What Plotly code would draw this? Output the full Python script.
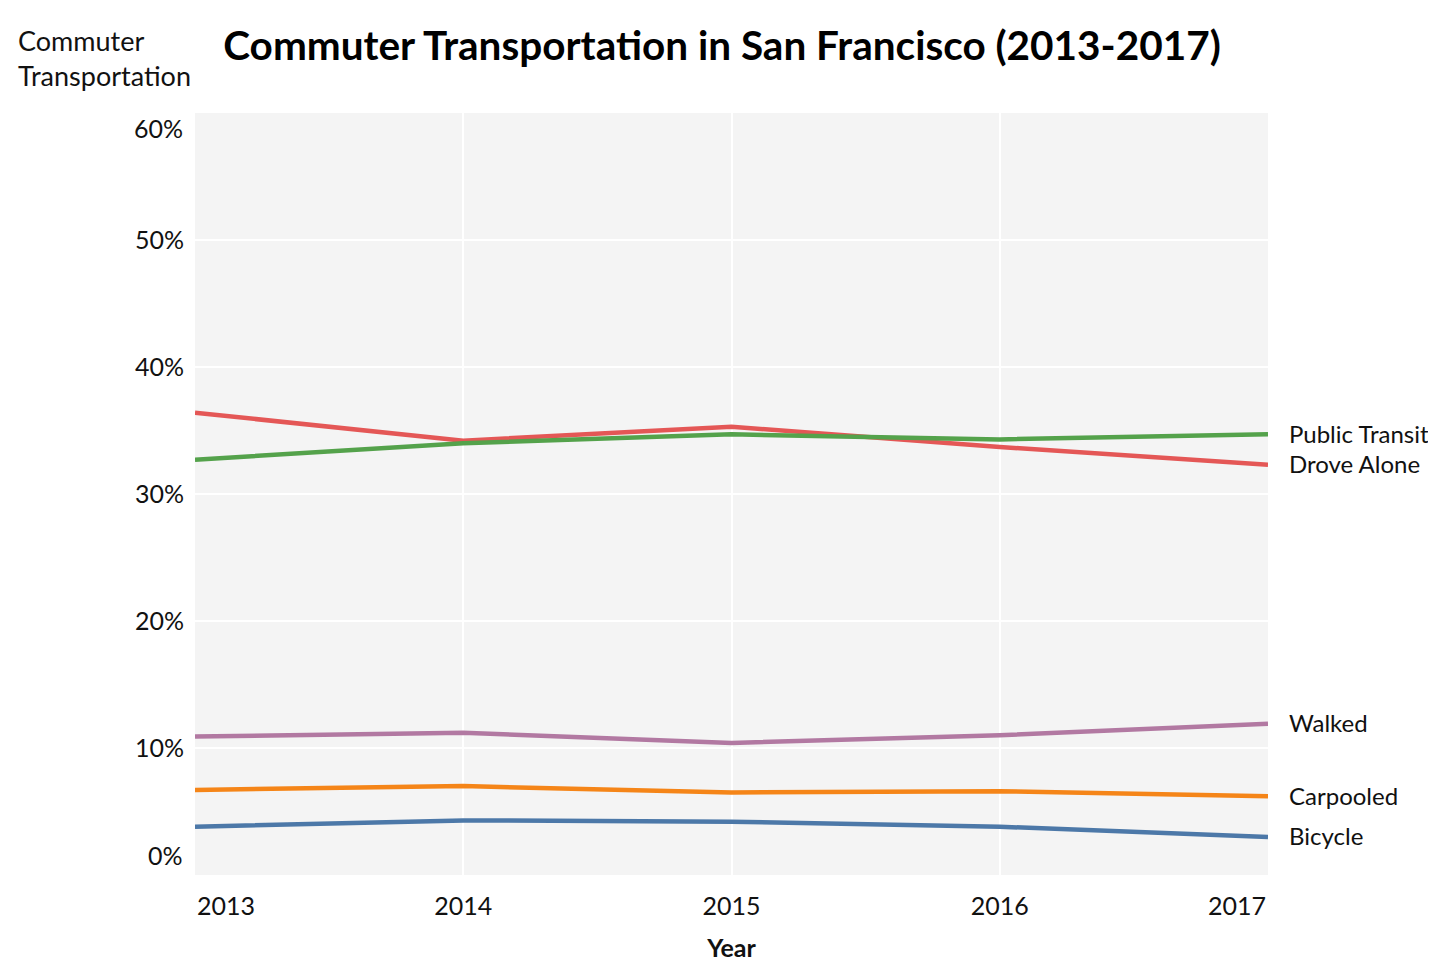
import plotly.graph_objects as go

years = [2013, 2014, 2015, 2016, 2017]
drove_alone = [36.4, 34.2, 35.3, 33.7, 32.3]
public_transit = [32.7, 34.0, 34.7, 34.3, 34.7]
walked = [10.9, 11.2, 10.4, 11.0, 11.9]
carpooled = [6.7, 7.0, 6.5, 6.6, 6.2]
bicycle = [3.8, 4.3, 4.2, 3.8, 3.0]

series_names = ["Bicycle", "Carpooled", "Drove Alone", "Public Transit", "Walked"]
series_values = [bicycle, carpooled, drove_alone, public_transit, walked]
series_colors = ["#4c78a8", "#f58518", "#e45756", "#54a24b", "#b279a2"]

y_ticks = [0, 10, 20, 30, 40, 50, 60]
FONT = "Lato"
TXT = "#111"

W, H = 1420, 954
ML, MT = 187, 105
PW, PH = 1073, 762
MR, MB = W - ML - PW, H - MT - PH

fig = go.Figure()
for name, vals, col in zip(series_names, series_values, series_colors):
    fig.add_trace(go.Scatter(x=years, y=vals, mode="lines", name=name,
                             line=dict(color=col, width=4.5), showlegend=False))

annotations = []
for name, vals in zip(series_names, series_values):
    annotations.append(dict(x=years[-1], y=vals[-1], xref="x", yref="y", text=name,
                            showarrow=False, xanchor="left", yanchor="middle", xshift=19, yshift=1,
                            font=dict(family=FONT, size=24, color=TXT)))
# flushed edge tick labels
annotations.append(dict(x=0, y=y_ticks[0], xref="paper", yref="y", text=f"{y_ticks[0]}%",
                        showarrow=False, xanchor="right", yanchor="bottom", xshift=-10, yshift=3,
                        font=dict(family=FONT, size=25, color=TXT)))
annotations.append(dict(x=0, y=y_ticks[-1], xref="paper", yref="y", text=f"{y_ticks[-1]}%",
                        showarrow=False, xanchor="right", yanchor="top", xshift=-10, yshift=2,
                        font=dict(family=FONT, size=25, color=TXT)))
annotations.append(dict(x=years[0], y=0, xref="x", yref="paper", text=str(years[0]),
                        showarrow=False, xanchor="left", yanchor="top", yshift=-13,
                        font=dict(family=FONT, size=25, color=TXT)))
annotations.append(dict(x=years[-1], y=0, xref="x", yref="paper", text=str(years[-1]),
                        showarrow=False, xanchor="right", yanchor="top", yshift=-13,
                        font=dict(family=FONT, size=25, color=TXT)))
# y axis title (top-left)
annotations.append(dict(x=(8 - ML) / PW, y=1 + (MT - 50) / PH, xref="paper", yref="paper",
                        text="Commuter<br>Transportation",
                        showarrow=False, xanchor="left", yanchor="middle", align="left",
                        font=dict(family=FONT, size=27, color=TXT)))

fig.update_layout(
    width=W, height=H,
    margin=dict(l=ML, r=MR, t=MT, b=MB, autoexpand=False),
    paper_bgcolor="white",
    plot_bgcolor="#f4f4f4",
    title=dict(text="<b>Commuter Transportation in San Francisco (2013-2017)</b>",
               x=(714 - ML) / PW, xref="paper", xanchor="center", y=1 - 38 / H, yanchor="middle",
               font=dict(family=FONT, size=40.5, color="#000")),
    annotations=annotations,
    xaxis=dict(range=[years[0], years[-1]], tickvals=years[1:-1], ticktext=[str(y) for y in years[1:-1]],
               showgrid=True, gridcolor="white", gridwidth=2, zeroline=False, showline=False,
               ticks="", ticklabelstandoff=14, automargin=False,
               tickfont=dict(family=FONT, size=25, color=TXT),
               title=dict(text="<b>Year</b>", standoff=25, font=dict(family=FONT, size=25, color=TXT))),
    yaxis=dict(range=[y_ticks[0], y_ticks[-1]], tickvals=y_ticks[1:-1],
               ticktext=[f"{v}%" for v in y_ticks[1:-1]],
               showgrid=True, gridcolor="white", gridwidth=2, zeroline=False, showline=False,
               ticks="", ticklabelstandoff=10, automargin=False,
               tickfont=dict(family=FONT, size=25, color=TXT)),
)

fig.write_html("out.html")
